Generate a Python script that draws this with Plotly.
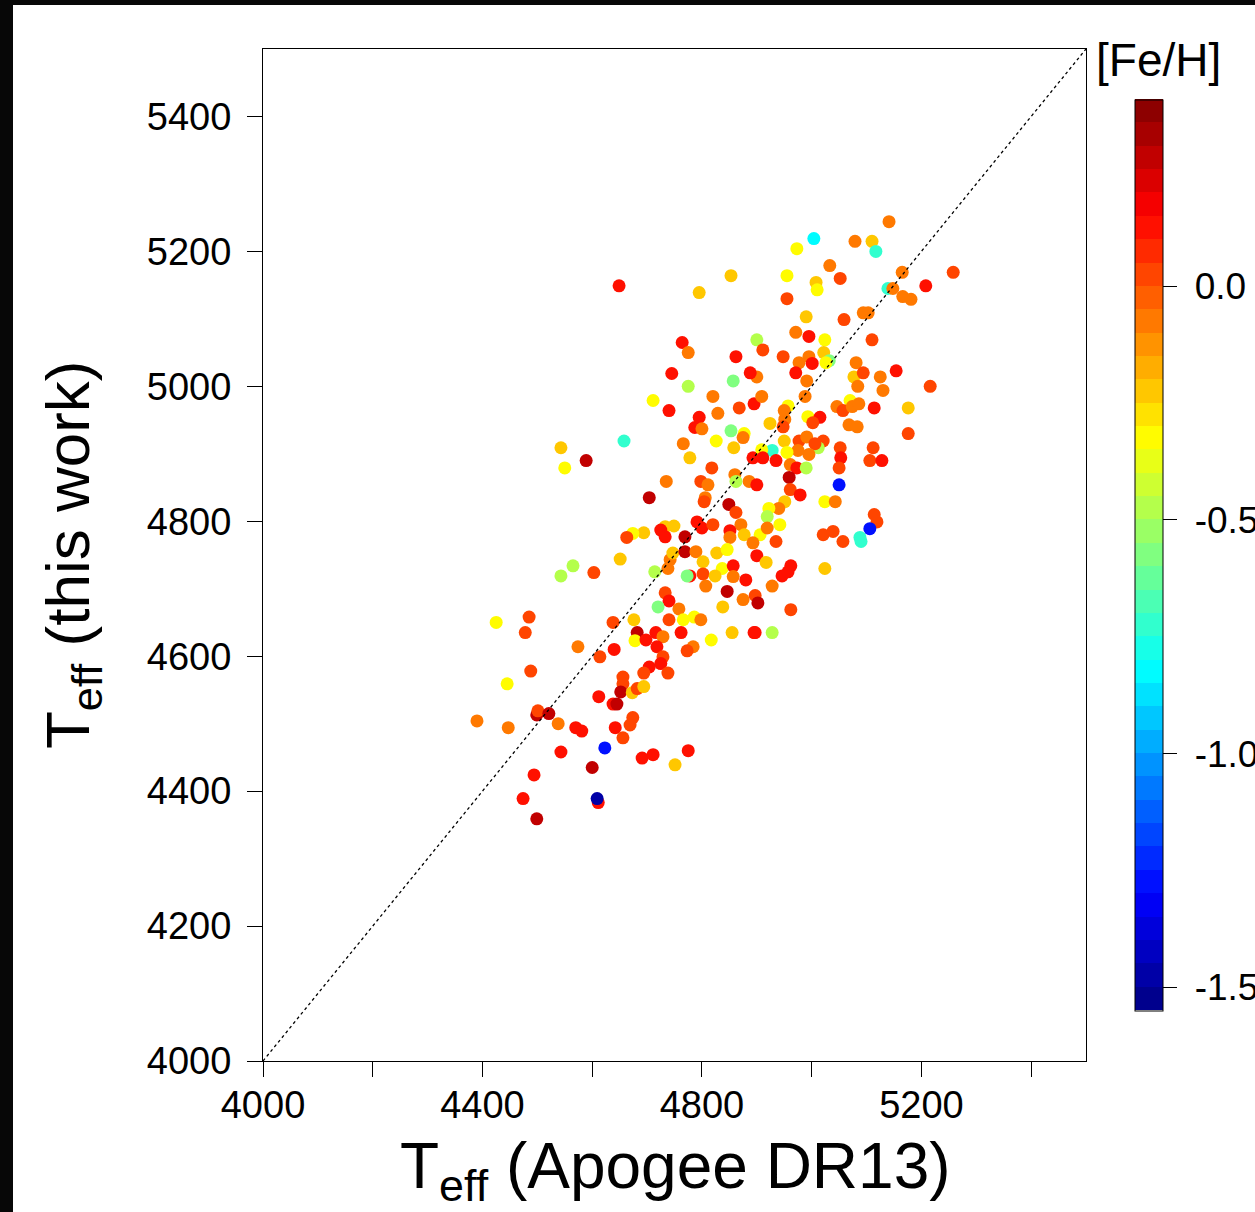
import plotly.graph_objects as go

# ---------------- data ----------------
teff_apogee = [
    5141, 5004, 4973, 5079, 5110, 5117, 5033, 4955, 5008, 5010, 5052, 5165, 5258, 5208, 5139, 5148, 5166, 5181,
    4955, 4990, 5059, 5094, 5103, 4900, 4911, 4971, 4995, 5024, 5022, 5032, 5026, 4995, 4977, 5001, 4948, 5110,
    5081, 5077, 5094, 5125, 5154, 4971, 4900, 4888, 4649, 4853, 4795, 4764, 4775, 4862, 4745, 4991, 4857, 4775,
    4711, 4740, 4820, 4829, 4868, 4895, 4795, 4787, 4800, 4853, 4877, 4875, 4826, 4858, 4766, 4658, 4543, 4550,
    4589, 4778, 4893, 4818, 4860, 4886, 4862, 4900, 4798, 4811, 4735, 4806, 4804, 4704, 4849, 4862, 4791, 4800,
    4820, 4733, 4749, 4725, 4871, 4851, 4851, 4877, 4906, 4769, 4733, 4694, 4674, 4663, 4909, 5084, 5130, 5216,
    4988, 5070, 5046, 5057, 5074, 5086, 5114, 5176, 5176, 4957, 4993, 5015, 5002, 4951, 4948, 4924, 5068, 5083,
    4950, 4977, 4991, 5021, 5012, 5006, 4995, 4975, 5052, 5053, 5050, 5112, 5106, 5128, 5050, 4928, 4955, 4909,
    4911, 4935, 4961, 4973, 4990, 4959, 4961, 4979, 5024, 5043, 4951, 4940, 4922, 4919, 4942, 4919, 5114, 5119,
    5106, 5021, 5039, 5088, 4950, 4893, 4935, 4900, 4917, 4962, 4946, 4957, 4928, 4897, 4902, 4962, 4897, 4928,
    5024, 5057, 5090, 4651, 4603, 4565, 4543, 4714, 4738, 4742, 4747, 4769, 4789, 4802, 4778, 4773, 4802, 4807,
    4827, 4846, 4837, 4824, 4857, 4857, 4880, 4846, 4875, 4838, 4733, 4740, 4720, 4758, 4740, 4766, 4786, 4798,
    4855, 4895, 4817, 4762, 4784, 4773, 4676, 4682, 4678, 4698, 4716, 4729, 4718, 4729, 4725, 4704, 4694, 4738,
    4638, 4640, 4614, 4656, 4656, 4652, 4673, 4682, 4694, 4574, 4485, 4478, 4425, 4488, 4445, 4390, 4447, 4499,
    4501, 4521, 4538, 4570, 4581, 4612, 4638, 4645, 4674, 4669, 4642, 4656, 4623, 4543, 4600, 4691, 4711, 4775,
    4751, 4494, 4474, 4611, 4609, 4499,
]

teff_this_work = [
    5244, 5219, 5204, 5215, 5215, 5200, 5179, 5164, 5154, 5143, 5160, 5169, 5169, 5149, 5145, 5145, 5133, 5129,
    5130, 5103, 5099, 5109, 5109, 5069, 5054, 5080, 5074, 5069, 5050, 5038, 5035, 5044, 5035, 5034, 5044, 5069,
    5035, 5014, 5020, 5014, 5023, 5020, 5014, 5020, 5149, 5164, 5139, 5065, 5050, 5044, 5019, 5008, 5008, 5000,
    4979, 4964, 4985, 4960, 4968, 4974, 4954, 4939, 4937, 4934, 4930, 4924, 4919, 4909, 4915, 4919, 4909, 4879,
    4890, 4894, 4894, 4879, 4869, 4859, 4859, 4854, 4859, 4854, 4859, 4835, 4829, 4835, 4825, 4813, 4799, 4790,
    4795, 4792, 4793, 4787, 4795, 4786, 4776, 4780, 4780, 4777, 4777, 4783, 4782, 4776, 4985, 5000, 4994, 5000,
    4985, 4979, 4970, 4964, 4970, 4974, 4968, 4968, 4930, 4971, 4955, 4954, 4946, 4951, 4940, 4945, 4943, 4940,
    4919, 4919, 4925, 4919, 4909, 4915, 4899, 4905, 4909, 4894, 4879, 4909, 4890, 4890, 4854, 4905, 4902, 4906,
    4894, 4890, 4884, 4879, 4879, 4865, 4847, 4839, 4829, 4829, 4829, 4819, 4819, 4807, 4795, 4790, 4810, 4799,
    4789, 4780, 4785, 4776, 4964, 4768, 4770, 4749, 4739, 4734, 4719, 4725, 4704, 4690, 4679, 4669, 4635, 4635,
    4730, 4770, 4770, 4744, 4724, 4734, 4719, 4725, 4730, 4743, 4753, 4755, 4755, 4740, 4719, 4719, 4722, 4704,
    4753, 4758, 4730, 4719, 4734, 4718, 4713, 4696, 4684, 4673, 4694, 4682, 4673, 4670, 4654, 4654, 4658, 4654,
    4635, 4635, 4624, 4635, 4614, 4608, 4654, 4635, 4623, 4624, 4635, 4629, 4614, 4599, 4589, 4584, 4575, 4575,
    4650, 4610, 4599, 4569, 4559, 4547, 4546, 4552, 4555, 4614, 4658, 4635, 4650, 4578, 4559, 4504, 4494, 4513,
    4519, 4515, 4500, 4494, 4489, 4540, 4529, 4529, 4509, 4498, 4494, 4479, 4464, 4458, 4435, 4449, 4454, 4460,
    4439, 4424, 4389, 4383, 4389, 4359,
]

fe_h = [
    -0.08, -0.82, -0.32, -0.08, -0.20, -0.72, -0.08, -0.32, -0.20, -0.32, 0.05, -0.08, 0.05, 0.15, -0.72, -0.08, -0.08, -0.08,
    0.05, -0.20, 0.05, -0.08, -0.08, -0.45, 0.05, -0.08, 0.15, -0.32, -0.20, -0.58, -0.32, -0.08, -0.08, 0.15, 0.05, 0.05,
    -0.08, -0.20, 0.05, -0.08, 0.15, 0.15, -0.08, 0.15, 0.15, -0.20, -0.20, 0.15, -0.08, 0.15, 0.15, -0.08, -0.58, -0.45,
    -0.32, 0.15, -0.08, -0.08, 0.05, 0.15, 0.15, 0.15, -0.08, -0.58, -0.32, -0.08, -0.32, -0.20, -0.08, -0.72, -0.20, -0.32,
    0.30, -0.20, 0.15, 0.05, -0.08, -0.08, -0.45, 0.15, 0.05, -0.08, -0.08, -0.08, 0.05, 0.30, 0.30, 0.05, 0.15, 0.15,
    0.05, -0.20, -0.20, 0.15, -0.08, 0.15, -0.08, -0.20, -0.32, 0.30, 0.15, -0.20, -0.32, 0.05, -0.08, -0.08, -0.08, 0.05,
    -0.08, -0.32, -0.08, 0.05, -0.08, -0.08, 0.15, -0.20, 0.05, -0.32, -0.32, 0.15, 0.05, -0.08, 0.05, -0.20, -0.08, -0.08,
    -0.20, 0.05, -0.08, 0.05, -0.45, 0.05, -0.08, -0.08, 0.05, 0.15, 0.05, 0.05, 0.05, 0.15, -1.30, -0.72, -0.32, -0.32,
    0.15, 0.15, -0.08, 0.15, -0.45, 0.30, 0.05, 0.15, -0.32, -0.08, -0.20, -0.08, -0.32, -0.45, -0.32, -0.08, 0.05, 0.05,
    -1.30, 0.05, 0.05, -0.72, -0.08, -0.08, 0.05, 0.15, -0.20, 0.15, 0.15, 0.15, -0.08, 0.05, 0.30, 0.05, 0.15, -0.45,
    -0.20, 0.05, -0.72, -0.20, 0.05, -0.45, -0.45, -0.45, -0.08, -0.08, -0.20, 0.30, -0.08, -0.20, 0.15, -0.58, 0.05, -0.08,
    -0.20, -0.32, -0.32, -0.20, 0.15, -0.08, 0.15, 0.30, -0.08, -0.20, 0.05, 0.15, -0.58, -0.08, 0.05, -0.32, -0.32, -0.08,
    -0.20, 0.15, -0.32, 0.15, -0.08, 0.05, -0.20, 0.30, -0.32, 0.15, 0.15, -0.08, 0.15, 0.05, 0.15, 0.15, 0.05, 0.05,
    0.05, 0.15, 0.05, 0.05, 0.05, 0.30, -0.20, 0.05, -0.20, -0.08, 0.05, 0.05, -0.32, 0.05, -0.32, -0.08, -0.08, 0.30,
    0.05, 0.30, -0.08, 0.15, 0.15, 0.15, 0.15, 0.30, 0.05, 0.05, 0.15, 0.05, -1.30, 0.15, 0.30, 0.15, 0.15, 0.15,
    -0.20, 0.15, 0.15, 0.15, -1.50, 0.30,
]

one_to_one = [4000, 5500]
x_tick_vals = [4000, 4400, 4800, 5200]
x_tick_text = ["4000", "4400", "4800", "5200"]
x_minor_step = 200
y_tick_vals = [4000, 4200, 4400, 4600, 4800, 5000, 5200, 5400]
y_tick_text = ["4000", "4200", "4400", "4600", "4800", "5000", "5200", "5400"]
cbar_tick_vals = [0.0, -0.5, -1.0, -1.5]
cbar_tick_text = ["\u00a00.0", "\u00a0-0.5", "\u00a0-1.0", "\u00a0-1.5"]
feh_min, feh_max = -1.55, 0.40

# ---------------- stepped jet colour scale ----------------
def jet(t):
    def c(v):
        return max(0.0, min(1.0, v))
    r = c(1.5 - abs(4 * t - 3))
    g = c(1.5 - abs(4 * t - 2))
    b = c(1.5 - abs(4 * t - 1))
    return "rgb(%d,%d,%d)" % (round(r * 255), round(g * 255), round(b * 255))

n_bands = 39
jet_scale = []
for i in range(n_bands):
    col = jet((i + 0.5) / n_bands)
    jet_scale.append([i / n_bands, col])
    jet_scale.append([(i + 1) / n_bands, col])

# ---------------- geometry ----------------
W, H = 1255, 1212
ML, MR, MT, MB = 263, 169, 49, 151
PW, PH = W - ML - MR, H - MT - MB


def px_x(px):
    return (px - ML) / PW


def px_y(py):
    return (H - MB - py) / PH


FONT = "Liberation Sans, Arial, Helvetica, sans-serif"

fig = go.Figure()

fig.add_trace(go.Scatter(
    x=teff_apogee, y=teff_this_work, mode="markers",
    marker=dict(
        size=13, color=fe_h, colorscale=jet_scale, cmin=feh_min, cmax=feh_max,
        line=dict(width=0), opacity=1,
        showscale=True,
        colorbar=dict(
            x=px_x(1135), xanchor="left", y=0.5, yanchor="middle",
            len=911 / PH, lenmode="fraction", thickness=28, thicknessmode="pixels",
            xpad=0, ypad=0, outlinecolor="black", outlinewidth=1,
            ticks="outside", ticklen=14, tickwidth=1, tickcolor="black",
            tickvals=cbar_tick_vals, ticktext=cbar_tick_text,
            tickfont=dict(size=37, family=FONT, color="black"),
        ),
    ),
    hoverinfo="skip",
))

fig.add_trace(go.Scatter(
    x=one_to_one, y=one_to_one, mode="lines",
    line=dict(color="black", width=1.3, dash="dot"), hoverinfo="skip",
))

axis_common = dict(
    range=[4000, 5500], showgrid=False, zeroline=False,
    showline=True, linecolor="black", linewidth=1, mirror=True,
    ticks="outside", ticklen=15, tickwidth=1, tickcolor="black",
    tickfont=dict(size=38, family=FONT, color="black"),
)

fig.update_xaxes(
    tickvals=x_tick_vals, ticktext=x_tick_text, ticklabelstandoff=-5,
    minor=dict(tick0=4000, dtick=x_minor_step, ticks="outside", ticklen=15,
               tickwidth=1, tickcolor="black", showgrid=False),
    **axis_common,
)
fig.update_yaxes(tickvals=y_tick_vals, ticktext=y_tick_text, ticklabelstandoff=8, **axis_common)

fig.update_layout(
    width=W, height=H,
    margin=dict(l=ML, r=MR, t=MT, b=MB, autoexpand=False),
    paper_bgcolor="#070707", plot_bgcolor="white",
    showlegend=False,
    font=dict(family=FONT, color="black"),
    shapes=[dict(type="rect", xref="paper", yref="paper",
                 x0=px_x(13), x1=px_x(1260), y0=px_y(1215), y1=px_y(5),
                 fillcolor="white", line=dict(width=0), layer="below")],
    annotations=[
        dict(text="[Fe/H]", xref="paper", yref="paper", x=px_x(1158), y=px_y(60),
             xanchor="center", yanchor="middle", showarrow=False,
             font=dict(size=46, family=FONT, color="black")),
        dict(text="T<sub>eff</sub> (Apogee DR13)", xref="paper", yref="paper",
             x=px_x(675), y=px_y(1170), xanchor="center", yanchor="middle", showarrow=False,
             font=dict(size=64, family=FONT, color="black")),
        dict(text="T<sub>eff</sub> (this work)", xref="paper", yref="paper",
             x=px_x(72), y=px_y(555), xanchor="center", yanchor="middle", showarrow=False,
             textangle=-90, font=dict(size=62, family=FONT, color="black")),
    ],
)

fig.write_html("out.html")
